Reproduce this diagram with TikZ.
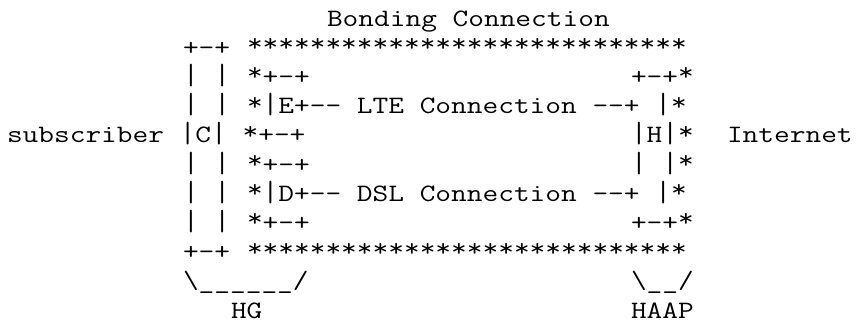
\documentclass[tikz,border=0pt]{standalone}
\usepackage{fontspec}
\usepackage{graphicx}
\newfontfamily\cour{Latin Modern Mono}[FakeStretch=1.22]
\newcommand\st{\raisebox{3.5pt}{*}}
\newcommand\vb{\scalebox{1}[1.17]{|}}
\newcommand\strow{\st\st\st\st\st\st\st\st\st\st\st\st\st\st\st\st\st\st\st\st\st\st\st\st\st\st\st\st}
\tikzset{seg/.style={anchor=base west, inner sep=0pt, outer sep=0pt,
  font=\cour\fontsize{25}{29}\selectfont, text=black}}
\newcommand\seg[4]{\node[seg] (#1) at ({7+16*#2},{-(26+29.2*#3)}) {#4};}
\begin{document}
\begin{tikzpicture}[x=1pt,y=1pt]
\useasboundingbox[fill=white] (0,0) rectangle (858,-324);
\seg{title}{20}{0}{Bonding Connection}
\seg{hgtop}{11}{1}{+-+}
\seg{startop}{15}{1}{\strow}
\seg{ca}{11}{2}{\vb{} \vb}
\seg{etop}{15}{2}{\st+-+}
\seg{htop}{39}{2}{+-+\st}
\seg{cb}{11}{3}{\vb{} \vb}
\seg{lte}{15}{3}{\st\vb E+-{}- LTE Connection -{}-+ \vb\st}
\seg{sub}{0}{4}{subscriber \vb C\vb{} \st+-+}
\seg{hmid}{39}{4}{\vb H\vb\st}
\seg{inet}{45}{4}{Internet}
\seg{cc}{11}{5}{\vb{} \vb}
\seg{dtop}{15}{5}{\st+-+}
\seg{hd}{39}{5}{\vb{} \vb\st}
\seg{cd}{11}{6}{\vb{} \vb}
\seg{dsl}{15}{6}{\st\vb D+-{}- DSL Connection -{}-+ \vb\st}
\seg{ce}{11}{7}{\vb{} \vb}
\seg{dbot}{15}{7}{\st+-+}
\seg{hbot}{39}{7}{+-+\st}
\seg{hgbot}{11}{8}{+-+}
\seg{starbot}{15}{8}{\strow}
\seg{hgbr}{11}{9}{\textbackslash\_\_\_\_\_\_/}
\seg{haapbr}{39}{9}{\textbackslash\_\_/}
\seg{hg}{14}{10}{HG}
\seg{haap}{39}{10}{HAAP}
\end{tikzpicture}
\end{document}
